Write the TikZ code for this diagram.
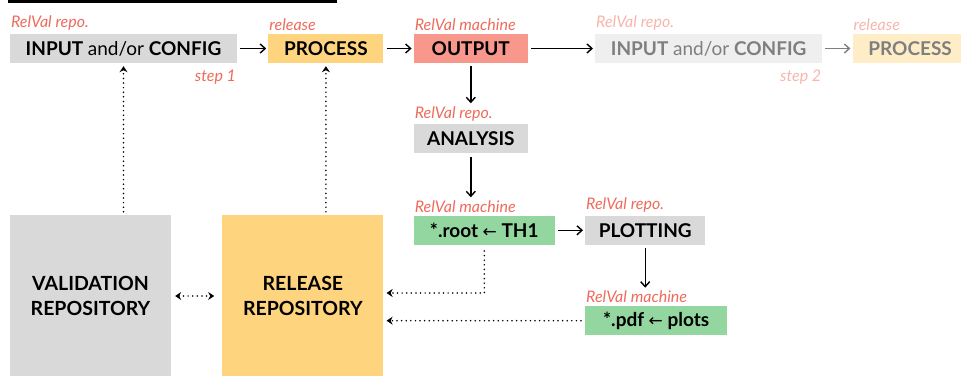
\documentclass[tikz,border=0pt]{standalone}
\usepackage{fontspec}
\setmainfont{Lato}
\newfontfamily\arrowfont{DejaVu Sans}
\usetikzlibrary{positioning}
\usetikzlibrary{arrows.meta}
\definecolor{boxgrey}{HTML}{D9D9D9}
\definecolor{boxyellow}{HTML}{FFD47F}
\definecolor{boxsalmon}{HTML}{F8978C}
\definecolor{boxgreen}{HTML}{93D6A0}
\definecolor{tagred}{HTML}{EE6B5C}
\definecolor{fadegrey}{HTML}{EFEFEF}
\definecolor{fadeyellow}{HTML}{FEEDC7}
\definecolor{fadetag}{HTML}{F7B5AC}
\definecolor{fadetext}{HTML}{7F7F7F}
\tikzset{node distance=30pt, % gap between neighbouring boxes
box/.style={ % every small step box
minimum height=29pt,
inner sep=0pt,
font=\fontsize{19}{22}\selectfont\bfseries},
bigbox/.style={ % the two repository boxes
minimum width=161pt,
minimum height=162pt,
inner sep=0pt,
align=center,
font=\fontsize{19.5}{25}\selectfont\bfseries},
tag/.style={ % red italic text above a box
font=\fontsize{16}{18}\selectfont\itshape,
text=tagred,
inner sep=1pt,
yshift=2pt,
anchor=south west},
steptag/.style={tag, anchor=north east, yshift=-8pt},
tagged/.style={label={[tag]north west:#1}},
flow/.style={ % solid arrows
draw,
line width=1.4pt,
-{Straight Barb[length=5pt,width=9pt]},
shorten <=3pt,
shorten >=2pt},
dots/.style={ % dotted arrows
draw,
line width=1.7pt,
dash pattern=on 0pt off 4.6pt,
line cap=round,
-{Stealth[length=6pt,width=8pt]}}}
\newcommand{\lar}{{\arrowfont\mdseries\fontsize{17}{20}\selectfont ←}}

\begin{document}
\begin{tikzpicture}[x=1pt,y=-1pt]
\useasboundingbox (0,0) rectangle (961,375);
\clip (0,0) rectangle (961,375);
\draw[line width=3pt] (8,1.5) -- (337,1.5);
% first pass
\node[box, fill=boxgrey, minimum width=227pt, tagged=RelVal repo.,
label={[steptag]south east:step 1}] (inp) at (123.5,48.5) {INPUT \mdseries and/or \bfseries CONFIG};
\node[box, fill=boxyellow, minimum width=115pt, tagged=release, right=31pt of inp] (proc) {PROCESS};
\node[box, fill=boxsalmon, minimum width=114pt, tagged=RelVal machine, right=of proc] (out) {OUTPUT};
% second pass (faded)
\node[box, fill=fadegrey, text=fadetext, minimum width=227pt,
label={[tag,text=fadetag]north west:RelVal repo.},
label={[steptag,text=fadetag]south east:step 2},
right=67pt of out] (inp2) {INPUT \mdseries and/or \bfseries CONFIG};
\node[box, fill=fadeyellow, text=fadetext, minimum width=115pt,
label={[tag,text=fadetag]north west:release}, right=of inp2] (proc2) {PROCESS};
% analysis chain
\node[box, fill=boxgrey, minimum width=114pt, label={[tag,name=anatag]north west:RelVal repo.},
below=61pt of out.south west, anchor=north west] (ana) {ANALYSIS};
\node[box, fill=boxgreen, minimum width=141pt, label={[tag,name=roottag]north west:RelVal machine},
below=62pt of ana.south west, anchor=north west] (root) {*.root \lar{} TH1};
\node[box, fill=boxgrey, minimum width=120pt, tagged=RelVal repo., right=of root] (plot) {PLOTTING};
\node[box, fill=boxgreen, minimum width=142pt, label={[tag,name=pdftag]north west:RelVal machine},
below=61pt of plot.south west, anchor=north west] (pdf) {*.pdf \lar{} plots};
% repositories
\node[bigbox, fill=boxgrey] (val) at (90.5,296) {VALIDATION\\REPOSITORY};
\node[bigbox, fill=boxyellow, right=51pt of val] (rel) {RELEASE\\REPOSITORY};
% solid connectors
\draw[flow] (inp) -- (proc);
\draw[flow] (proc) -- (out);
\draw[flow] (out) -- (inp2);
\draw[flow, draw=fadetext] (inp2) -- (proc2);
\draw[flow] (out.south) -- (out.south |- anatag.north);
\draw[flow] (ana.south) -- (ana.south |- roottag.north);
\draw[flow] (root) -- (plot);
\draw[flow] (plot.south) -- (plot.south |- pdftag.north);
% dotted connectors
\draw[dots, shorten <=3pt, shorten >=3pt] (val.north -| inp.south) -- (inp.south);
\draw[dots, shorten <=3pt, shorten >=3pt] (proc.south |- rel.north) -- (proc.south);
\draw[dots, {Stealth[length=6pt,width=8pt]}-{Stealth[length=6pt,width=8pt]}, shorten <=4pt, shorten >=8pt] (val.east) -- (rel.west);
\draw[dots, shorten <=6pt, shorten >=3pt] (root.south) |- ([yshift=3pt]rel.east);
\draw[dots, shorten <=4pt, shorten >=3pt] (pdf.west) -- (pdf.west -| rel.east);
\end{tikzpicture}
\end{document}
